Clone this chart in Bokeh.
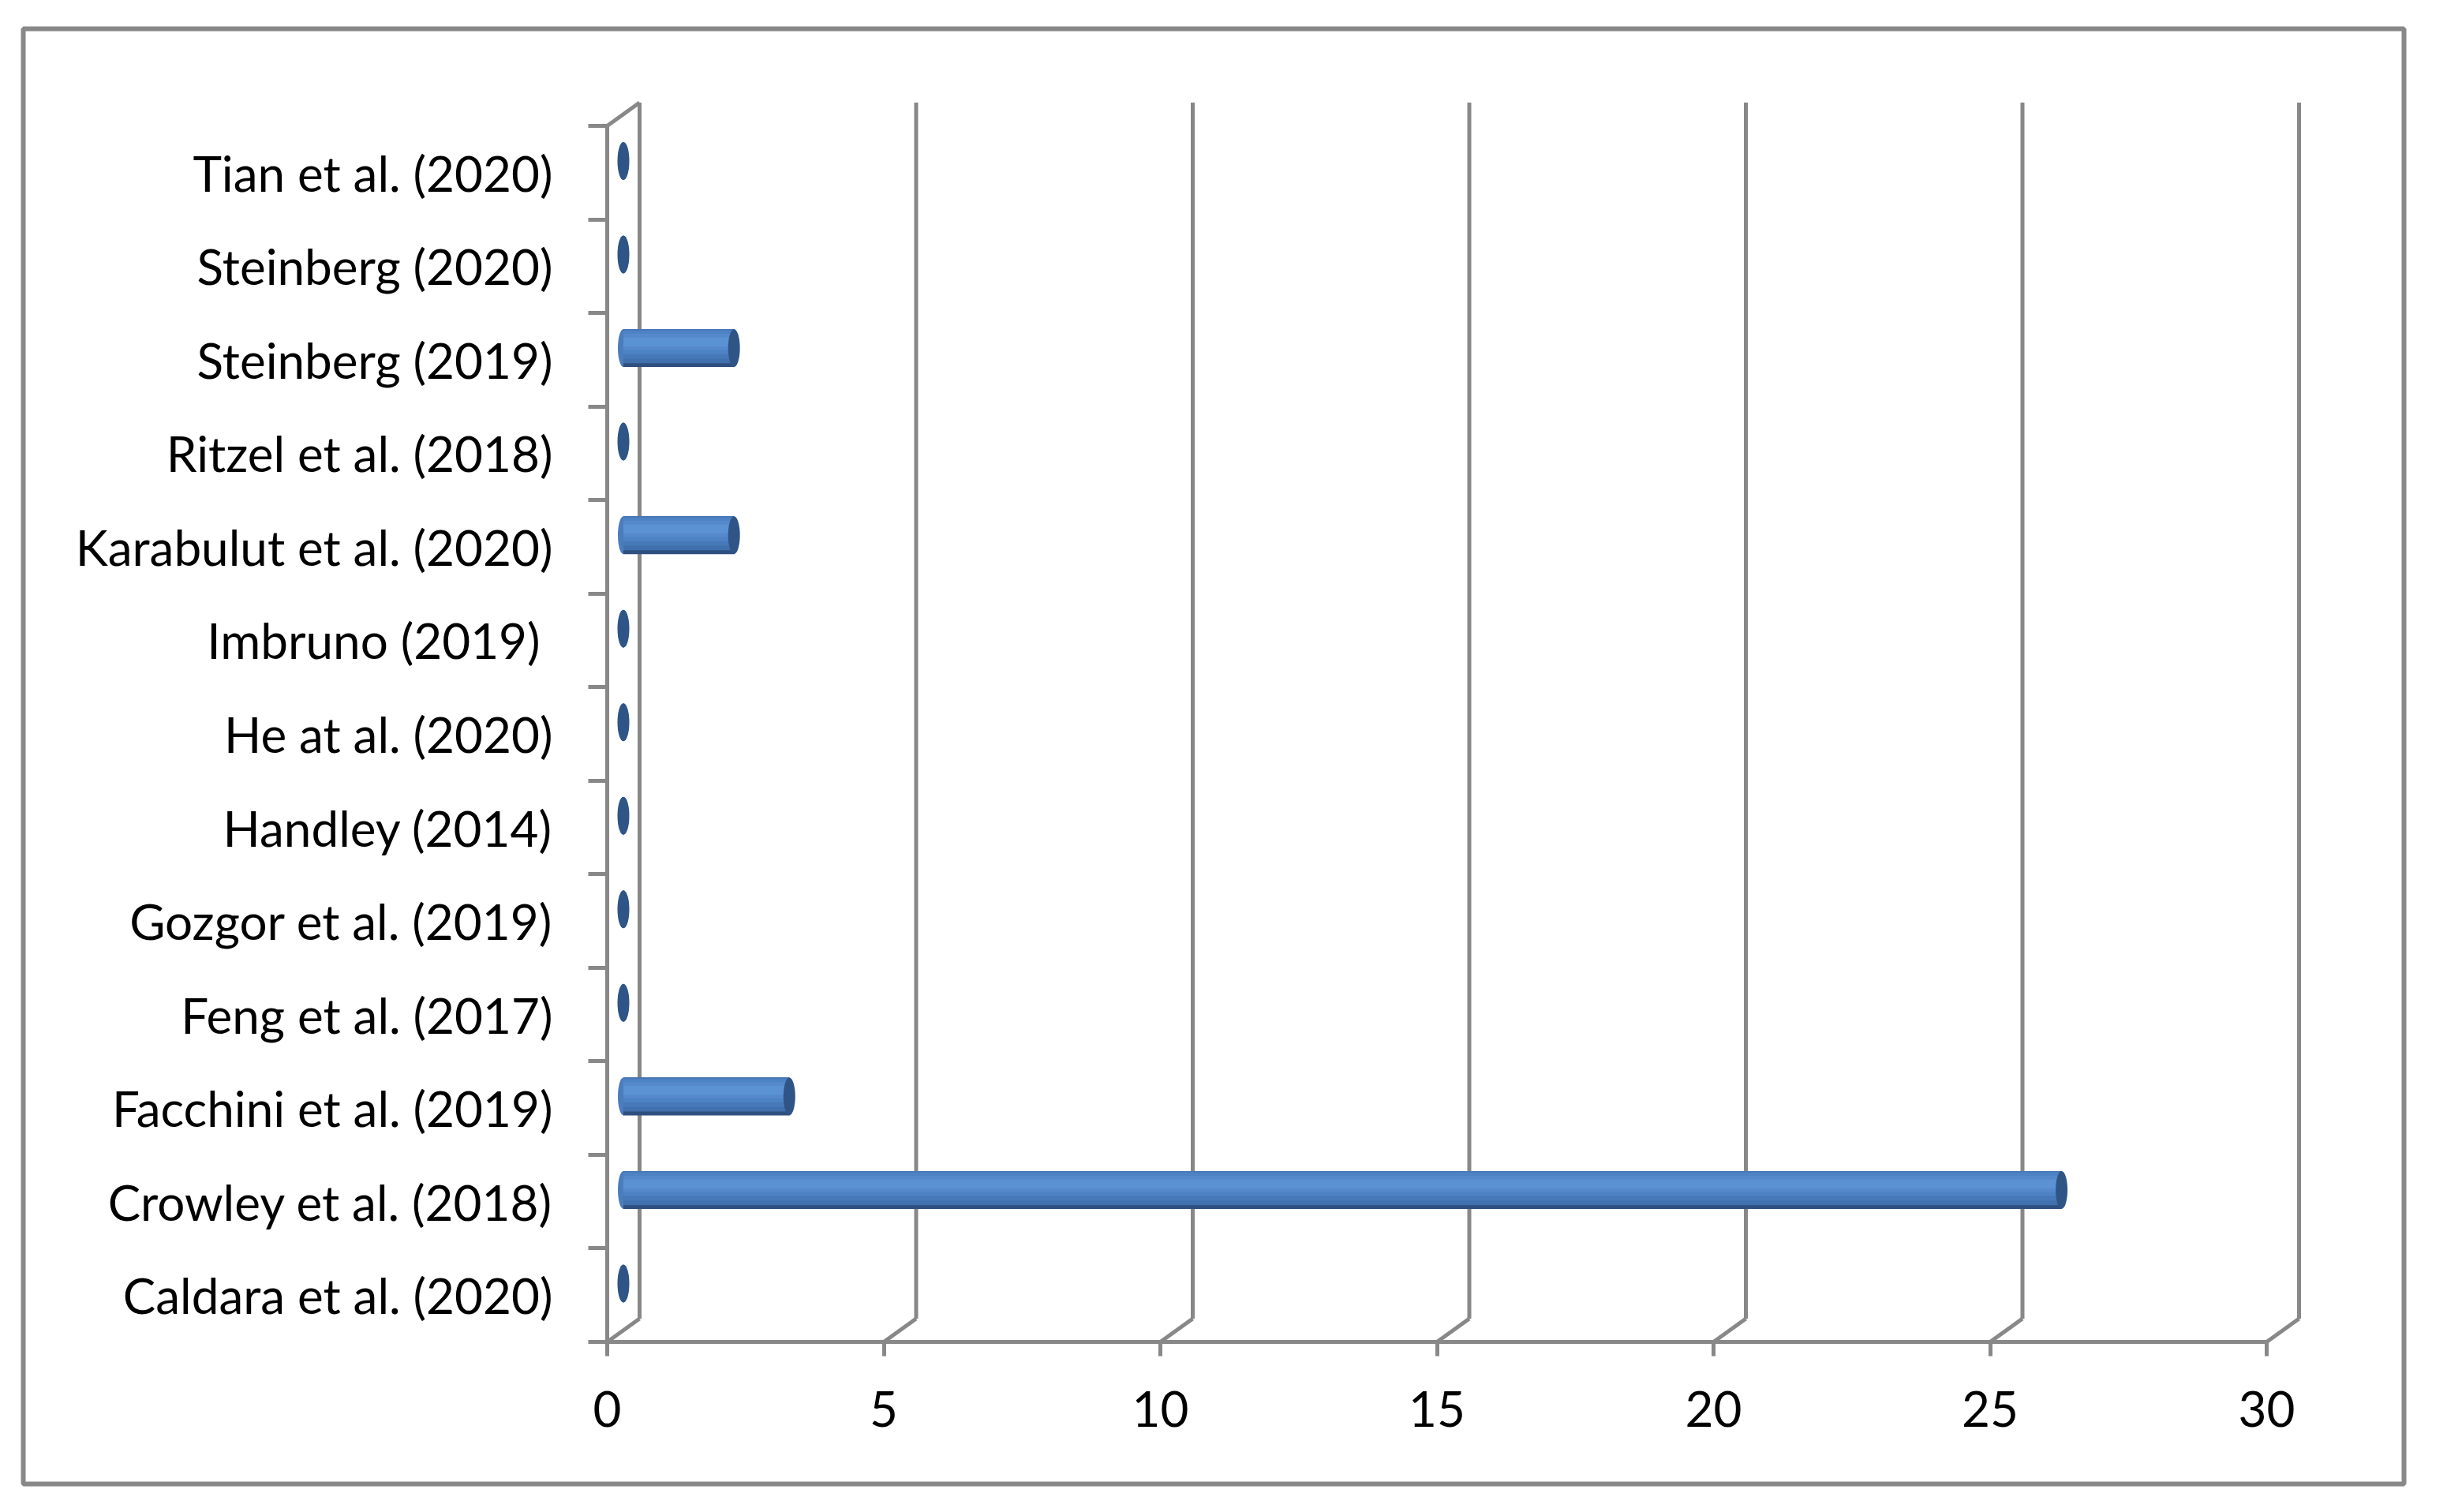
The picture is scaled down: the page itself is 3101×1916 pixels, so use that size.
from bokeh.plotting import figure
from bokeh.models import LinearAxis, FixedTicker, Range1d
from bokeh.embed import file_html
from bokeh.resources import INLINE

# ---------------- data ----------------
categories = [
    "Caldara et al. (2020)",
    "Crowley et al. (2018)",
    "Facchini et al. (2019)",
    "Feng et al. (2017)",
    "Gozgor et al. (2019)",
    "Handley (2014)",
    "He at al. (2020)",
    "Imbruno (2019) ",
    "Karabulut et al. (2020)",
    "Ritzel et al. (2018)",
    "Steinberg (2019)",
    "Steinberg (2020)",
    "Tian et al. (2020)",
]
values = [0, 26, 3, 0, 0, 0, 0, 0, 2, 0, 2, 0, 0]
x_ticks = [0, 5, 10, 15, 20, 25, 30]

# ---------------- geometry ----------------
W, H = 3085, 1900
FL, FR, FT, FB = 29, 3046, 36, 1880          # frame edges (canvas px)
X0, PXU = 769, 70.1                            # front x=0 and px per unit
Y0, PYU = 1700, 118.54                         # front y=0 and px per band
x_start, x_end = (FL - X0) / PXU, (FR - X0) / PXU
y_start, y_end = (Y0 - FB) / PYU, (Y0 - FT) / PYU

DXB, DYB = 41 / PXU, 29.5 / PYU                # back-wall depth offset
DXM, DYM = DXB / 2, DYB / 2                    # bar (middle) depth offset
BAR_H_PX = 48

GRAY = "#888888"
LW = 5
FONT = "Lato"
FSIZE = "62px"
n = len(categories)

p = figure(width=W, height=H,
           x_range=Range1d(x_start, x_end), y_range=Range1d(y_start, y_end),
           x_axis_type=None, y_axis_type=None,
           output_backend="svg", toolbar_location=None,
           min_border_left=FL, min_border_right=W - FR,
           min_border_top=FT, min_border_bottom=H - FB)
p.outline_line_color = GRAY
p.outline_line_width = 6
p.background_fill_color = "white"
p.border_fill_color = "white"

# ---------------- 3D box lines ----------------
p.segment(x0=[t + DXB for t in x_ticks], y0=[DYB] * len(x_ticks),
          x1=[t + DXB for t in x_ticks], y1=[n + DYB] * len(x_ticks),
          line_color=GRAY, line_width=LW)
p.segment(x0=x_ticks, y0=[0] * len(x_ticks),
          x1=[t + DXB for t in x_ticks], y1=[DYB] * len(x_ticks),
          line_color=GRAY, line_width=LW)
p.segment(x0=[0], y0=[n], x1=[DXB], y1=[n + DYB], line_color=GRAY, line_width=LW)

# ---------------- bars (cylinders) ----------------
yc = [i + 0.5 + DYM for i in range(n)]
bh = BAR_H_PX / PYU
layers = [
    (0.00, 1.00, "#2e4f7f"),
    (0.00, 0.90, "#4070ad"),
    (0.00, 0.78, "#4778b8"),
    (0.04, 0.66, "#4d82c4"),
    (0.12, 0.55, "#5589cc"),
    (0.22, 0.46, "#5b92d4"),
]
# left rounded end
p.ellipse(x=[DXM] * n, y=yc, width=14, height=BAR_H_PX,
          width_units="screen", height_units="screen",
          fill_color="#4a7dbe", line_color=None)
for t, b, col in layers:
    ys = [y + bh * (0.5 - (t + b) / 2) for y in yc]
    p.hbar(y=ys, left=[DXM] * n, right=[v + DXM for v in values],
           height=bh * (b - t), fill_color=col, line_color=None)
# end caps
p.ellipse(x=[v + DXM for v in values], y=yc, width=15, height=BAR_H_PX,
          width_units="screen", height_units="screen",
          fill_color="#2f5587", line_color=None)

# ---------------- axes ----------------
xaxis = LinearAxis(fixed_location=0, bounds=(0, 30),
                   ticker=FixedTicker(ticks=x_ticks))
xaxis.axis_line_color = GRAY
xaxis.axis_line_width = LW
xaxis.major_tick_line_color = GRAY
xaxis.major_tick_line_width = LW
xaxis.major_tick_in = 0
xaxis.major_tick_out = 18
xaxis.minor_tick_line_color = None
xaxis.major_label_text_font = FONT
xaxis.major_label_text_font_size = FSIZE
xaxis.major_label_text_color = "#000000"
xaxis.major_label_standoff = 44
p.add_layout(xaxis, "below")

centers = [i + 0.5 for i in range(n)]
bounds = list(range(n + 1))
yaxis = LinearAxis(fixed_location=0, bounds=(0, n),
                   ticker=FixedTicker(ticks=centers, minor_ticks=bounds))
yaxis.major_label_overrides = {c: lab for c, lab in zip(centers, categories)}
yaxis.axis_line_color = GRAY
yaxis.axis_line_width = LW
yaxis.major_tick_line_color = None
yaxis.major_tick_in = 0
yaxis.major_tick_out = 0
yaxis.minor_tick_line_color = GRAY
yaxis.minor_tick_line_width = LW
yaxis.minor_tick_in = 0
yaxis.minor_tick_out = 24
yaxis.major_label_text_font = FONT
yaxis.major_label_text_font_size = FSIZE
yaxis.major_label_text_color = "#000000"
yaxis.major_label_standoff = 45
p.add_layout(yaxis, "left")

open("out.html", "w").write(file_html(p, INLINE))
